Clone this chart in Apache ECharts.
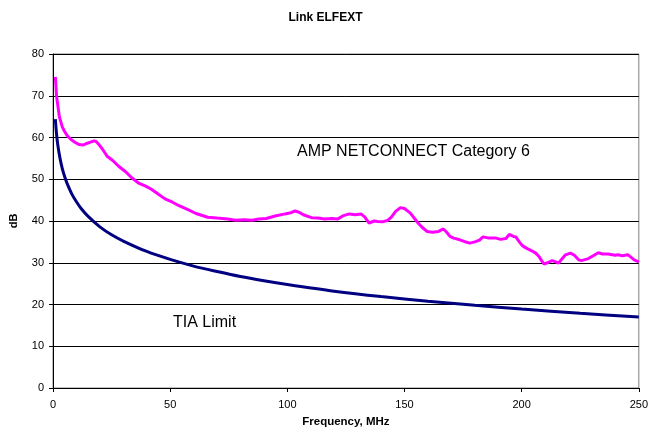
<!DOCTYPE html>
<html>
<head>
<meta charset="utf-8">
<script src="https://cdn.jsdelivr.net/npm/echarts@6/dist/echarts.min.js"></script>
<style>
html,body{margin:0;padding:0;background:#fff;}
#chart{width:651px;height:438px;}
</style>
</head>
<body>
<div id="chart"></div>
<script>
// Frequency (MHz) and dB values
const ampFreq = [1,1.5,2.7,4,4.9,6,7.7,9.5,11.2,13,14,16,17.5,18.5,19.6,21,23.1,25.5,28,31,33.7,36.5,39.3,42,45,47.8,51,54,57.6,61,66,70,74.5,78,81.5,85,87.8,91,94.8,99,101,103.3,105,106.8,110.3,113,116,119,121.6,124,126.5,129,131.4,133,134.9,137,138.5,140.5,142.7,144.5,146.2,148.3,150,152.5,154,155.5,157.5,159.6,162,164.5,166.6,168,169.4,171,173.6,175.5,177.8,180,182,183.5,186,189.1,191,193.3,194.7,195.4,196.5,197.5,199,200.3,202,204.5,206,207.4,208.5,209.5,211,213,214.5,215.8,217,218.7,220.8,222.5,224.3,225.5,228.5,230,232.7,234.5,236.9,239.9,241.1,243,245.3,246.5,248,250];
const ampDb = [74.5,70,65,62.5,61.5,60.5,59.5,58.8,58.3,58.2,58.5,58.9,59.2,59,58.3,57.3,55.5,54.5,53.1,51.8,50.3,49.1,48.4,47.6,46.4,45.3,44.5,43.6,42.7,41.8,40.9,40.7,40.5,40.2,40.3,40.2,40.5,40.6,41.2,41.7,41.9,42.4,42.1,41.5,40.8,40.7,40.5,40.6,40.5,41.3,41.7,41.5,41.7,41,39.5,40,39.9,39.8,40.1,41,42.3,43.2,43,41.9,40.8,39.7,38.5,37.5,37.3,37.5,38.1,37.3,36.3,35.9,35.5,35.1,34.7,35,35.4,36.2,35.9,35.9,35.6,35.8,36.8,37,36.3,36.2,35,34.1,33.5,32.8,32.3,31.5,30.5,29.7,30,30.5,30.2,29.9,30.8,31.9,32.3,31.8,30.7,30.5,31,31.5,32.4,32.1,32.1,31.8,31.9,31.7,31.9,31.4,30.7,30.2];
const tiaFreq = [1,1.5,2,3,4,5,6,8,10,12,15,20,25,30,40,50,60,70,80,90,100,120,140,160,180,200,225,250];
const tiaDb = [64.4,60.9,58.4,55.0,52.5,50.6,49.0,46.5,44.6,43.0,41.1,38.6,36.7,35.2,32.7,30.8,29.2,27.9,26.7,25.7,24.8,23.2,21.9,20.8,19.8,18.9,17.9,17.0];
const yTicks = [0,10,20,30,40,50,60,70,80];
const xTicks = [0,50,100,150,200,250];

const pair = (xs, ys) => xs.map((x, i) => [x, ys[i]]);
const font = '"Liberation Sans", Arial, sans-serif';

const chart = echarts.init(document.getElementById('chart'), null, {renderer: 'canvas'});
chart.setOption({
  animation: false,
  backgroundColor: '#fff',
  title: {
    text: 'Link ELFEXT', left: 'center', top: 7,
    textStyle: {fontFamily: font, fontSize: 12, fontWeight: 'bold', color: '#000'}
  },
  grid: {left: 48, right: 10, top: 54, bottom: 50, show: true, borderColor: '#808080', borderWidth: 1, backgroundColor: 'transparent'},
  xAxis: {
    type: 'value', min: xTicks[0], max: xTicks[xTicks.length - 1], interval: 50,
    name: 'Frequency, MHz', nameLocation: 'middle', nameGap: 28,
    nameTextStyle: {fontFamily: font, fontSize: 11.5, fontWeight: 'bold', color: '#000'},
    axisLine: {show: true, onZero: false, lineStyle: {color: '#000', width: 1}},
    axisTick: {show: true, length: 4, lineStyle: {color: '#000'}},
    axisLabel: {fontFamily: font, fontSize: 11, color: '#000', margin: 11},
    splitLine: {show: false}
  },
  yAxis: {
    type: 'value', min: yTicks[0], max: yTicks[yTicks.length - 1], interval: 10,
    name: 'dB', nameLocation: 'middle', nameGap: 34, nameRotate: 90,
    nameTextStyle: {fontFamily: font, fontSize: 11, fontWeight: 'bold', color: '#000'},
    axisLine: {show: true, lineStyle: {color: '#000', width: 1}},
    axisTick: {show: true, length: 4, lineStyle: {color: '#000'}},
    axisLabel: {fontFamily: font, fontSize: 11, color: '#000', margin: 9},
    splitLine: {show: true, lineStyle: {color: '#000', width: 1}}
  },
  graphic: [
    {type: 'text', left: 297, top: 144, style: {text: 'AMP NETCONNECT Category 6', font: '16px ' + font, fill: '#000'}},
    {type: 'text', left: 173, top: 315, style: {text: 'TIA Limit', font: '16px ' + font, fill: '#000'}}
  ],
  series: [
    {type: 'line', name: 'AMP NETCONNECT Category 6', data: pair(ampFreq, ampDb), showSymbol: false, symbol: 'none',
      lineStyle: {color: '#FF00FF', width: 3}, z: 3},
    {type: 'line', name: 'TIA Limit', data: pair(tiaFreq, tiaDb), showSymbol: false, symbol: 'none', smooth: 0.3,
      lineStyle: {color: '#000080', width: 3}, z: 4}
  ]
});
</script>
</body>
</html>
